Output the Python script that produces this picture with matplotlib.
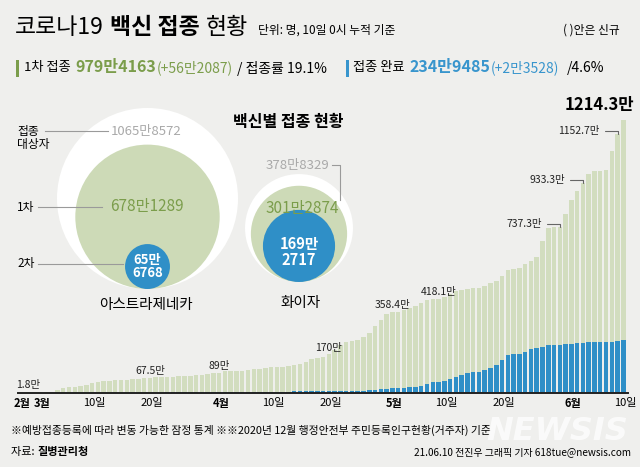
import matplotlib.pyplot as plt
from matplotlib.patches import Circle, Rectangle
import numpy as np
import pandas as pd

plt.rcParams['font.family'] = ['Noto Sans CJK KR', 'DejaVu Sans']

BG = '#efefed'
GREEN_BAR = '#d2ddbf'
GREEN_CIRCLE = '#cddab7'
GREEN_TXT = '#7b9d4b'
BLUE = '#2f8fc7'
BLUE_TXT = '#3895cd'
GRAY_TXT = '#a9a9a9'
LINE_GRAY = '#9a9a9a'

# 일자별 누적 접종자 (단위: 만 명, 해당일 0시 기준)
dates = pd.date_range('2021-02-27', '2021-06-10')

first_feb = [1.8, 2.0]
first_mar = [2.1, 2.3, 3.5, 12, 19, 25, 27, 28, 34, 41,
             47, 52, 53, 55, 56, 58, 61, 62, 63.5, 67.5,
             68, 69, 70, 71, 72.5, 74.5, 76.5, 77, 79.5, 83, 87]
first_apr = [89, 95, 96, 96.5, 98, 101, 104, 107, 111, 113,
             113.5, 114.5, 117, 122, 126, 136, 150, 153, 157, 170,
             190, 210, 225, 231, 234, 249, 267, 297, 323, 350]
first_may = [358.4, 360, 366, 376, 386, 397, 412, 416, 418.1, 427,
             439, 451, 457, 461, 464, 465, 474, 489, 499, 521,
             548, 552, 553, 571, 586, 605, 675, 733, 736, 737.3, 795]
first_jun = [857, 898, 933.3, 973, 987, 988, 989, 1075, 1152.7, 1214.3]

second_feb = [0, 0]
second_mar = [0] * 16 + [0.1, 0.3, 0.5, 0.6, 0.6, 0.8, 1.0, 1.3, 1.6, 1.9,
                         2.0, 2.0, 2.2, 2.5, 2.8]
second_apr = [3.2, 3.5, 3.6, 3.6, 3.8, 4.0, 4.2, 4.5, 4.8, 5.0,
              5.0, 5.1, 5.3, 5.5, 5.8, 6.2, 6.5, 6.5, 6.8, 7.2,
              7.6, 8.0, 8.5, 8.7, 8.8, 9.5, 11, 13, 15, 18]
second_may = [19, 19, 21, 24, 27, 31, 40, 46, 46, 53,
              61, 70, 79, 86, 90, 90, 99, 112, 123, 145,
              168, 172, 172, 182, 193, 200, 205, 212, 212, 212, 215]
second_jun = [218, 219, 222, 225, 225, 225, 225, 227, 230, 234.9485]

first_dose = first_feb + first_mar + first_apr + first_may + first_jun
second_dose = second_feb + second_mar + second_apr + second_may + second_jun

# 백신별 접종 현황 (만 명)
vaccines = ['아스트라제네카', '화이자']
target = [1065.8572, 378.8329]
first_by_vac = [678.1289, 301.2874]
second_by_vac = [65.6768, 169.2717]
target_lbl = ['1065만8572', '378만8329']
first_lbl = ['678만1289', '301만2874']
second_lbl = ['65만\n6768', '169만\n2717']

# 헤더 수치
first_total, first_new, first_rate = '979만4163', '(+56만2087)', '19.1%'
second_total, second_new, second_rate = '234만9485', '(+2만3528)', '4.6%'

label_days = ['2021-02-27', '2021-03-20', '2021-04-01',
              '2021-04-20', '2021-05-01', '2021-05-09']
leader_days = ['2021-05-30', '2021-06-03', '2021-06-09']
tick_days = ['2021-03-01', '2021-03-10', '2021-03-20', '2021-04-01',
             '2021-04-10', '2021-04-20', '2021-05-01', '2021-05-10',
             '2021-05-20', '2021-06-01', '2021-06-10']

W, H = 640, 467
fig = plt.figure(figsize=(W / 100, H / 100), dpi=100, facecolor=BG)
bg = fig.add_axes([0, 0, 1, 1])
bg.set_xlim(0, W)
bg.set_ylim(H, 0)
bg.axis('off')
renderer = fig.canvas.get_renderer()


def put(x, y, s, gap=0, **kw):
    t = bg.text(x, y, s, ha='left', va='center', **kw)
    return x + t.get_window_extent(renderer).width + gap


# 제목
x = put(15, 27, '코로나19', gap=6, fontsize=16.5)
x = put(x, 27, '백신 접종', gap=6, fontsize=16.5, fontweight='bold')
x = put(x, 27, '현황', gap=10, fontsize=16.5)
put(x, 30, '단위: 명, 10일 0시 누적 기준', fontsize=8.5)
bg.text(620, 30, '( )안은 신규', ha='right', va='center', fontsize=8.5)

# 1차 / 완료 요약
bg.add_patch(Rectangle((16, 60), 3, 17, color=GREEN_TXT, lw=0))
x = put(24, 68, '1차 접종', gap=5, fontsize=9.5)
x = put(x, 67, first_total, fontsize=11.5, fontweight='bold', color=GREEN_TXT)
x = put(x, 68, first_new, gap=4, fontsize=10, color=GREEN_TXT)
put(x, 68, f'/ 접종률 {first_rate}', fontsize=10)

bg.add_patch(Rectangle((346, 60), 3, 17, color=BLUE_TXT, lw=0))
x = put(353, 68, '접종 완료', gap=5, fontsize=9.5)
x = put(x, 67, second_total, fontsize=11.5, fontweight='bold', color=BLUE_TXT)
x = put(x, 68, second_new, gap=8, fontsize=10, color=BLUE_TXT)
put(x, 68, f'/{second_rate}', fontsize=10)

# 백신별 원 (면적 비례)
r_scale = 90.5 / np.sqrt(target[0])
centers = [147.5, 299]
bottoms = [289, 282]
for cx, cb, t, f, s in zip(centers, bottoms, target, first_by_vac, second_by_vac):
    for v, col in ((t, 'white'), (f, GREEN_CIRCLE), (s, BLUE)):
        r = r_scale * np.sqrt(v)
        bg.add_patch(Circle((cx, cb - r), r, color=col, lw=0))

bg.text(233, 122, '백신별 접종 현황', ha='left', va='center',
        fontsize=11.5, fontweight='bold')

# 아스트라제네카
bg.text(146, 131, target_lbl[0], ha='center', va='center', fontsize=9.5, color=GRAY_TXT)
bg.text(146.5, 207, first_lbl[0], ha='center', va='center', fontsize=11, color=GREEN_TXT)
r2 = r_scale * np.sqrt(second_by_vac[0])
bg.text(147.5, bottoms[0] - r2, second_lbl[0], ha='center', va='center',
        fontsize=9.5, fontweight='bold', color='white', linespacing=0.95)
bg.text(146, 305, vaccines[0], ha='center', va='center', fontsize=10.5)
bg.text(17, 138, '접종\n대상자', ha='left', va='center', fontsize=8.5, linespacing=1.0)
bg.text(17, 207, '1차', ha='left', va='center', fontsize=8.5)
bg.text(17, 264, '2차', ha='left', va='center', fontsize=8.5)
bg.plot([45, 108], [131, 131], color=LINE_GRAY, lw=0.8)
bg.plot([38, 102], [207, 207], color=LINE_GRAY, lw=0.8)
bg.plot([38, 123], [264, 264], color=LINE_GRAY, lw=0.8)

# 화이자
bg.text(298, 166, target_lbl[1], ha='center', va='center', fontsize=9.5, color=GRAY_TXT)
bg.plot([332, 340, 340], [165, 165, 200], color=LINE_GRAY, lw=0.8)
bg.text(302, 208, first_lbl[1], ha='center', va='center', fontsize=11, color=GREEN_TXT)
r2 = r_scale * np.sqrt(second_by_vac[1])
bg.text(299, bottoms[1] - r2 + 6, second_lbl[1], ha='center', va='center',
        fontsize=10.5, fontweight='bold', color='white', linespacing=0.95)
bg.text(301, 303, vaccines[1], ha='center', va='center', fontsize=10.5)

# 일자별 막대
PX_DAY, X0 = 5.774, 28.6
BASE, TOP, PX_UNIT = 392.7, 90, 0.2248
ax = fig.add_axes([0, (H - BASE) / H, 1, (BASE - TOP) / H])
ax.set_facecolor('none')
ax.set_xlim(-X0 / PX_DAY, (W - X0) / PX_DAY)
ax.set_ylim(0, (BASE - TOP) / PX_UNIT)
ax.axis('off')

days = np.arange(len(dates))
ax.bar(days, first_dose, width=0.78, color=GREEN_BAR, lw=0)
ax.bar(days, second_dose, width=0.78, color=BLUE, lw=0)
ax.plot([-1.85, 103.8], [0, 0], color='#222222', lw=1.4, clip_on=False)

for d in label_days:
    i = dates.get_loc(pd.Timestamp(d))
    ax.annotate(f'{first_dose[i]:g}만', (i, first_dose[i]), xytext=(0, 5),
                textcoords='offset points', ha='center', va='center',
                fontsize=7.5, color='#222222')

for d in leader_days:
    i = dates.get_loc(pd.Timestamp(d))
    ax.annotate(f'{first_dose[i]:g}만', (i, first_dose[i]), xytext=(-13, 2),
                textcoords='offset points', ha='right', va='center',
                fontsize=7.5, color='#222222',
                arrowprops=dict(arrowstyle='-', color='#666666', lw=0.8,
                                connectionstyle='angle,angleA=0,angleB=90,rad=0',
                                shrinkA=2, shrinkB=0))

ax.annotate(f'{first_dose[-1]:g}만', (days[-1], first_dose[-1]), xytext=(-17.5, 10.8),
            textcoords='offset points', ha='center', va='center',
            fontsize=12, fontweight='bold')

# x축 눈금
xt = ax.get_xaxis_transform()
ax.annotate('2월', (-1.2, 0), xycoords=xt, xytext=(0, -7.6), textcoords='offset points',
            ha='center', va='center', fontsize=8, fontweight='bold')
for d in tick_days:
    ts = pd.Timestamp(d)
    i = dates.get_loc(ts)
    lbl = f'{ts.month}월' if ts.day == 1 else f'{ts.day}일'
    ax.annotate(lbl, (i + 0.3, 0), xycoords=xt, xytext=(0, -7.6),
                textcoords='offset points', ha='center', va='center', fontsize=8,
                fontweight='bold' if ts.day == 1 else 'normal')

# 하단 주석
bg.text(11, 430, '※예방접종등록에 따라 변동 가능한 잠정 통계 ※※2020년 12월 행정안전부 '
        '주민등록인구현황(거주자) 기준', ha='left', va='center', fontsize=7.8)
x = put(11, 452, '자료: ', fontsize=8)
put(x, 452, '질병관리청', fontsize=8, fontweight='bold')
bg.text(631, 452, '21.06.10 전진우 그래픽 기자 618tue@newsis.com',
        ha='right', va='center', fontsize=7.2)
bg.text(557, 432, 'NEWSIS', ha='center', va='center', fontsize=23,
        fontstyle='italic', fontweight='bold', family='DejaVu Sans',
        color='white', alpha=0.75)

fig.savefig('out.png', dpi=100, facecolor=BG)
